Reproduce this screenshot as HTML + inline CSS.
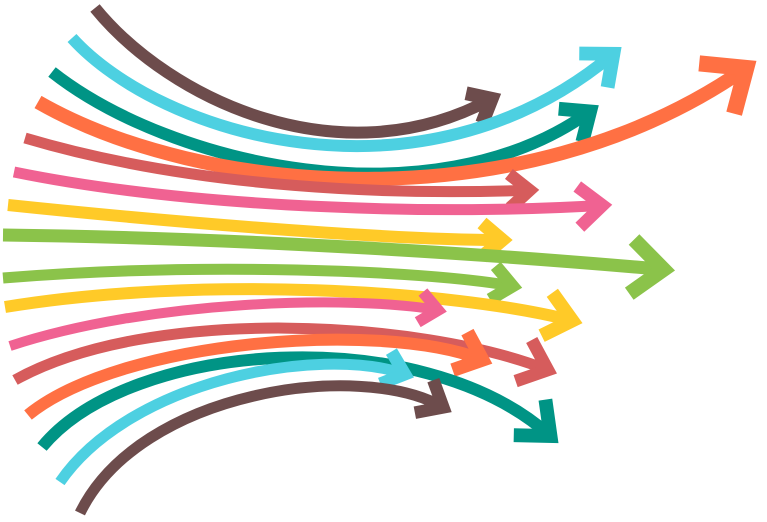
<!DOCTYPE html>
<html><head><meta charset="utf-8"><style>
html,body{margin:0;padding:0;background:#fff;}
svg{display:block;}
</style></head><body>
<svg id="s" width="767" height="522" viewBox="0 0 767 522" xmlns="http://www.w3.org/2000/svg"></svg>
<script>
var A=[
["#6d4c4c",[95,8],[170,100],[340,180],[497,96],12,20],
["#4dd0e1",[72,38],[160,135],[420,215],[618,50],12,26],
["#009485",[52,72],[170,165],[430,225],[595,108],12,24],
["#ff7043",[38,102],[200,195],[520,225],[752,64],14,36],
["#d65c5c",[25,138],[200,190],[400,195],[535,190],11,20],
["#f06292",[14,172],[200,210],[450,215],[608,205],11,24],
["#ffca28",[8,205],[200,225],[400,240],[508,240],12,20],
["#8bc34a",[3,235],[250,238],[500,255],[670,270],13,32],
["#8bc34a",[3,278],[200,262],[420,270],[518,287],11,20],
["#ffca28",[5,307],[200,275],[450,290],[578,322],12,26],
["#f06292",[10,346],[150,300],[350,295],[443,311],10,18],
["#d65c5c",[15,380],[150,305],[420,320],[553,372],11,26],
["#ff7043",[28,415],[120,340],[380,320],[488,362],12,24],
["#009485",[42,447],[130,340],[420,320],[555,440],12,28],
["#4dd0e1",[60,482],[130,380],[320,345],[410,376],11,20],
["#6d4c4c",[80,513],[140,390],[360,360],[448,410],11,22]
];
var s=document.getElementById('s'),h="";
A.forEach(function(a){
 var c=a[0],p0=a[1],c1=a[2],c2=a[3],e=a[4],w=a[5],k=a[6];
 var dx=e[0]-c2[0],dy=e[1]-c2[1],L=Math.hypot(dx,dy);dx/=L;dy/=L;
 var nx=-dy,ny=dx;
 var ex=e[0]-dx*w*0.6,ey=e[1]-dy*w*0.6;
 h+='<path d="M'+p0+' C'+c1+' '+c2+' '+ex+','+ey+'" fill="none" stroke="'+c+'" stroke-width="'+w+'"/>';
 var tx=e[0]-dx*w*0.5,ty=e[1]-dy*w*0.5;
 var ax=tx-dx*k+nx*k*0.85,ay=ty-dy*k+ny*k*0.85,bx=tx-dx*k-nx*k*0.85,by=ty-dy*k-ny*k*0.85;
 h+='<polyline points="'+ax+','+ay+' '+tx+','+ty+' '+bx+','+by+'" fill="none" stroke="'+c+'" stroke-width="'+(w*1.15)+'" stroke-linejoin="miter" stroke-miterlimit="10"/>';
});
s.innerHTML=h;
</script>
</body></html>
